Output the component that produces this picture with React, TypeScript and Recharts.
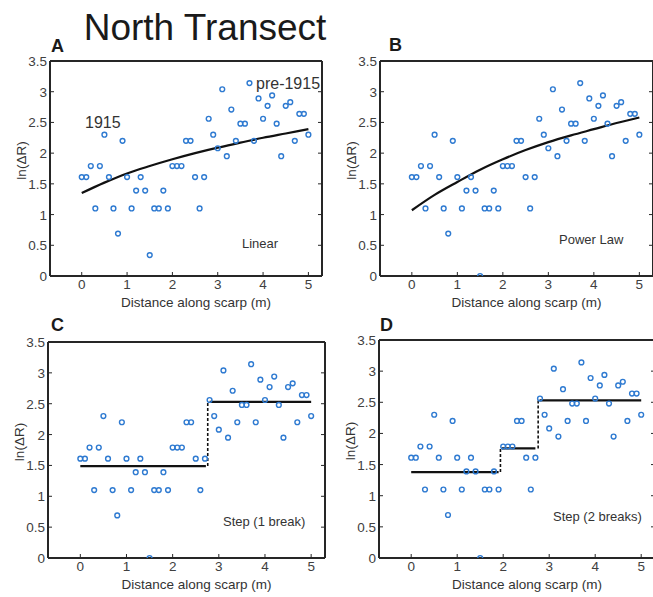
import { ComposedChart, Line, Scatter, XAxis, YAxis } from 'recharts'

const FONT = '"Liberation Sans", Arial, Helvetica, sans-serif'
const MARKER = '#2e7ad1'
const AXIS = '#262626'
const TICK_TEXT = '#404040'

// distance along scarp (m)
const distance = [
  0, 0.1, 0.2, 0.3, 0.4, 0.5, 0.6, 0.7, 0.8, 0.9, 1, 1.1, 1.2, 1.3, 1.4, 1.5, 1.6, 1.7, 1.8, 1.9, 2, 2.1,
  2.2, 2.3, 2.4, 2.5, 2.6, 2.7, 2.8, 2.9, 3, 3.1, 3.2, 3.3, 3.4, 3.5, 3.6, 3.7, 3.8, 3.9, 4, 4.1, 4.2,
  4.3, 4.4, 4.5, 4.6, 4.7, 4.8, 4.9, 5,
]

// ln(ΔR)
const lnDR = [
  1.61, 1.61, 1.79, 1.1, 1.79, 2.3, 1.61, 1.1, 0.69, 2.2, 1.61, 1.1, 1.39, 1.61, 1.39, 0, 1.1, 1.1,
  1.39, 1.1, 1.79, 1.79, 1.79, 2.2, 2.2, 1.61, 1.1, 1.61, 2.56, 2.3, 2.08, 3.04, 1.95, 2.71, 2.2, 2.48,
  2.48, 3.14, 2.2, 2.89, 2.56, 2.77, 2.94, 2.48, 1.95, 2.77, 2.83, 2.2, 2.64, 2.64, 2.3,
]

// panel A shows the x = 1.5 point higher
const linearPanelPoint = { x: 1.5, y: 0.34 }

const fitX = [0, 0.5, 1, 1.5, 2, 2.5, 3, 3.5, 4, 4.5, 5]
const linearFitY = [1.35, 1.52, 1.67, 1.79, 1.9, 2.0, 2.09, 2.17, 2.25, 2.32, 2.39]
const powerFitY = [1.07, 1.32, 1.53, 1.73, 1.9, 2.05, 2.18, 2.29, 2.39, 2.49, 2.58]

// step fits: [xStart, xEnd, level]
const oneBreakSteps = [
  [0, 2.72, 1.49],
  [2.8, 5, 2.53],
]
const oneBreakJumps = [[2.76, 1.49, 2.53]]
const twoBreakSteps = [
  [0, 1.9, 1.38],
  [1.97, 2.7, 1.76],
  [2.79, 5, 2.53],
]
const twoBreakJumps = [
  [1.94, 1.38, 1.76],
  [2.76, 1.76, 2.53],
]

const xTicks = [0, 1, 2, 3, 4, 5]
const yTicks = [0, 0.5, 1, 1.5, 2, 2.5, 3, 3.5]

const points = distance.map((x, i) => ({ x, y: lnDR[i] }))
const pointsA = points.map((p) => (p.x === linearPanelPoint.x ? linearPanelPoint : p))
const linearFit = fitX.map((x, i) => ({ x, y: linearFitY[i] }))
const powerFit = fitX.map((x, i) => ({ x, y: powerFitY[i] }))

type Seg = { data: { x: number; y: number }[]; dashed?: boolean }

const stepSegs = (steps: number[][], jumps: number[][]): Seg[] => [
  ...steps.map(([a, b, v]) => ({ data: [{ x: a, y: v }, { x: b, y: v }] })),
  ...jumps.map(([x, lo, hi]) => ({ data: [{ x, y: lo }, { x, y: hi }], dashed: true })),
]

const Marker = (props: any) => (
  <circle cx={props.cx} cy={props.cy} r={2.4} fill="none" stroke={MARKER} strokeWidth={1.4} />
)

const BottomTick = (props: any) => (
  <g>
    <line x1={props.x} x2={props.x} y1={props.y} y2={props.y - 4} stroke={AXIS} strokeWidth={1} />
    <text x={props.x} y={props.y + 13} textAnchor="middle" fontSize={13.5} fill={TICK_TEXT} fontFamily={FONT}>
      {props.payload.value}
    </text>
  </g>
)
const TopTick = (props: any) => (
  <line x1={props.x} x2={props.x} y1={props.y} y2={props.y + 4} stroke={AXIS} strokeWidth={1} />
)
const LeftTick = (props: any) => (
  <g>
    <line x1={props.x} x2={props.x + 4} y1={props.y} y2={props.y} stroke={AXIS} strokeWidth={1} />
    <text x={props.x - 3} y={props.y + 5} textAnchor="end" fontSize={13.5} fill={TICK_TEXT} fontFamily={FONT}>
      {props.payload.value}
    </text>
  </g>
)
const RightTick = (props: any) => (
  <line x1={props.x} x2={props.x - 4} y1={props.y} y2={props.y} stroke={AXIS} strokeWidth={1} />
)

type PanelProps = {
  left: number
  top: number
  w: number
  h: number
  data: { x: number; y: number }[]
  curve?: { x: number; y: number }[]
  segs?: Seg[]
}

function Panel({ left, top, w, h, data, curve, segs = [] }: PanelProps) {
  const axisProps = { stroke: AXIS, strokeWidth: 2 }
  return (
    <div style={{ position: 'absolute', left: left - 50, top: top - 10 }}>
      <ComposedChart width={w + 54} height={h + 40} margin={{ top: 0, right: 0, bottom: 0, left: 0 }}>
        <XAxis
          dataKey="x"
          type="number"
          domain={[-0.7, 5.3]}
          ticks={xTicks}
          height={30}
          tickSize={0}
          tickMargin={0}
          tickLine={false}
          axisLine={axisProps}
          tick={BottomTick}
          allowDataOverflow
        />
        <XAxis
          xAxisId="top"
          orientation="top"
          type="number"
          domain={[-0.7, 5.3]}
          ticks={xTicks}
          height={10}
          tickSize={0}
          tickMargin={0}
          tickLine={false}
          axisLine={axisProps}
          tick={TopTick}
          allowDataOverflow
        />
        <YAxis
          dataKey="y"
          type="number"
          domain={[0, 3.5]}
          ticks={yTicks}
          width={50}
          tickSize={0}
          tickMargin={0}
          tickLine={false}
          axisLine={axisProps}
          tick={LeftTick}
          allowDataOverflow
        />
        <YAxis
          yAxisId="right"
          orientation="right"
          type="number"
          domain={[0, 3.5]}
          ticks={yTicks}
          width={4}
          tickSize={0}
          tickMargin={0}
          tickLine={false}
          axisLine={axisProps}
          tick={RightTick}
          allowDataOverflow
        />
        {curve && (
          <Line
            data={curve}
            dataKey="y"
            type="monotone"
            stroke="#111"
            strokeWidth={2.2}
            dot={false}
            isAnimationActive={false}
          />
        )}
        {segs.map((s, i) => (
          <Line
            key={i}
            data={s.data}
            dataKey="y"
            type="linear"
            stroke="#111"
            strokeWidth={s.dashed ? 1.6 : 2.2}
            strokeDasharray={s.dashed ? '3 2' : undefined}
            dot={false}
            isAnimationActive={false}
          />
        ))}
        <Scatter data={data} dataKey="y" shape={Marker} isAnimationActive={false} />
      </ComposedChart>
    </div>
  )
}

const panels = [
  { key: 'A', left: 50, top: 61, w: 272, h: 215, data: pointsA, curve: linearFit },
  { key: 'B', left: 380, top: 61, w: 273, h: 215, data: points, curve: powerFit },
  { key: 'C', left: 48, top: 342, w: 277, h: 216, data: points, segs: stepSegs(oneBreakSteps, oneBreakJumps) },
  { key: 'D', left: 379, top: 340, w: 276, h: 218, data: points, segs: stepSegs(twoBreakSteps, twoBreakJumps) },
]

const letterPos: Record<string, [number, number]> = {
  A: [51, 52],
  B: [389, 51],
  C: [51, 331],
  D: [380, 331],
}

const notes = [
  { text: '1915', x: 85, y: 128, size: 16 },
  { text: 'pre-1915', x: 256, y: 89, size: 16 },
  { text: 'Linear', x: 242, y: 248, size: 13 },
  { text: 'Power Law', x: 559, y: 244, size: 13 },
  { text: 'Step (1 break)', x: 223, y: 526, size: 13 },
  { text: 'Step (2 breaks)', x: 553, y: 521, size: 13 },
]

export default function App() {
  return (
    <div style={{ position: 'absolute', left: 0, top: 0, width: 653, height: 597, background: '#fff', overflow: 'hidden' }}>
      {panels.map((p) => (
        <Panel key={p.key} left={p.left} top={p.top} w={p.w} h={p.h} data={p.data} curve={p.curve} segs={p.segs} />
      ))}
      <svg width={653} height={597} style={{ position: 'absolute', left: 0, top: 0, pointerEvents: 'none' }} fontFamily={FONT}>
        <text x={205} y={40} textAnchor="middle" fontSize={37} fill="#1a1a1a">
          North Transect
        </text>
        {panels.map((p) => (
          <g key={p.key}>
            <text x={letterPos[p.key][0]} y={letterPos[p.key][1]} fontSize={18} fontWeight="bold" fill="#1a1a1a">
              {p.key}
            </text>
            <text x={p.left + p.w / 2 + 10} y={p.top + p.h + 31} textAnchor="middle" fontSize={13.5} fill="#333">
              Distance along scarp (m)
            </text>
            <text
              transform={`translate(${p.left - 24}, ${p.top + p.h / 2 - 8}) rotate(-90)`}
              textAnchor="middle"
              fontSize={13.5}
              fill="#333"
            >
              ln(ΔR)
            </text>
          </g>
        ))}
        {notes.map((n) => (
          <text key={n.text} x={n.x} y={n.y} fontSize={n.size} fill="#333">
            {n.text}
          </text>
        ))}
      </svg>
    </div>
  )
}
